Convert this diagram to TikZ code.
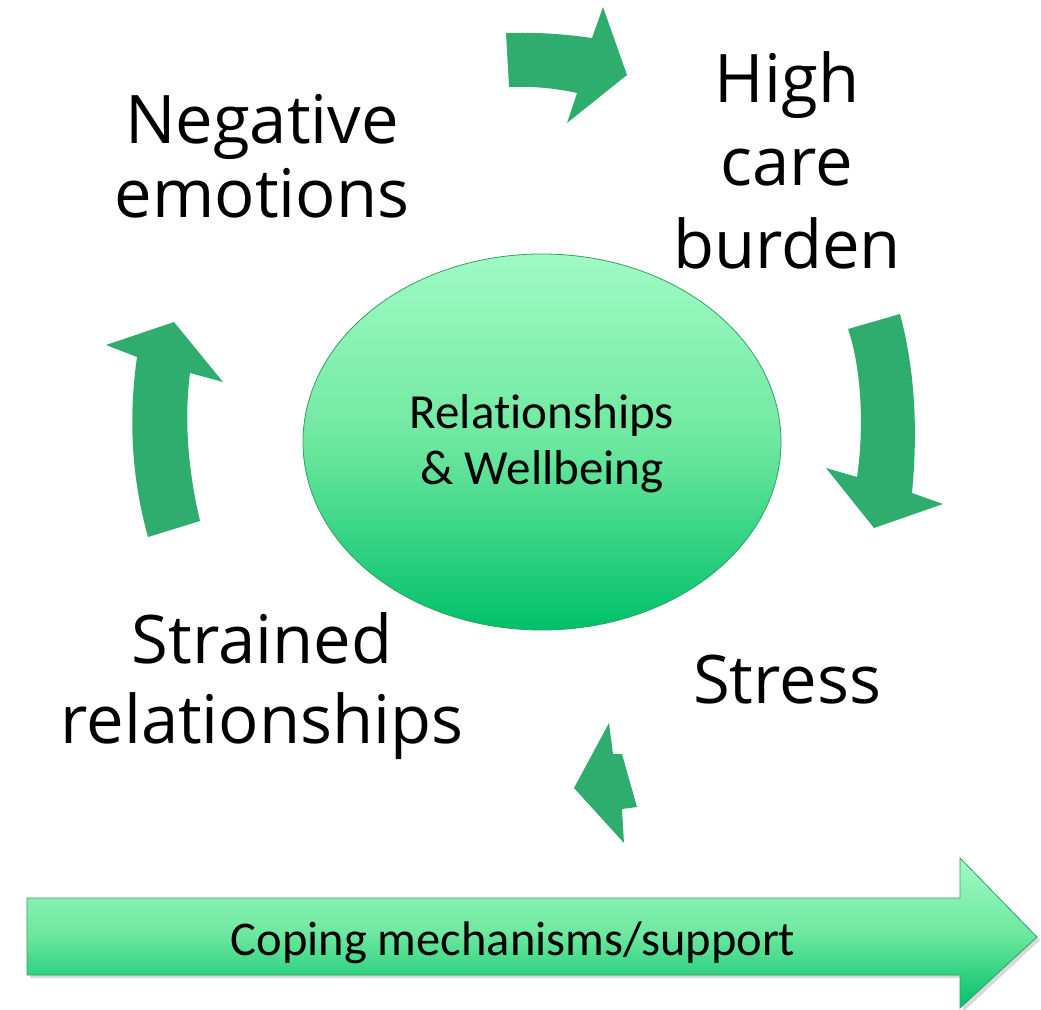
\documentclass[tikz,border=0pt]{standalone}
\usepackage{fontspec}
\setmainfont{Open Sans}
\newfontfamily\capfont[Ligatures=NoCommon]{Carlito}
\usetikzlibrary{shapes.geometric}
\definecolor{cyclegreen}{RGB}{46,173,110}
\definecolor{lightmint}{RGB}{160,250,196}
\definecolor{midmint}{RGB}{110,232,160}
\definecolor{deepmint}{RGB}{0,192,106}
\definecolor{rimgreen}{RGB}{52,160,96}
\tikzset{
  cyclearrow/.style={fill=cyclegreen, draw=none},
  bigword/.style={font=\fontsize{67}{67}\selectfont, anchor=base, inner sep=0pt},
  minttext/.style={font=\capfont\fontsize{49}{49}\selectfont, anchor=base, inner sep=0pt},
}
\begin{document}
\begin{tikzpicture}[x=1pt, y=-1pt]
\useasboundingbox (0,0) rectangle (1041,1009);

% centre ellipse
\node[ellipse, minimum width=478pt, minimum height=376pt, draw=rimgreen, line width=0.8pt,
      top color=lightmint, bottom color=deepmint, middle color=midmint, inner sep=0pt]
      (core) at (542,442) {};
\node[minttext] (core1) at (542,428) {Relationships};
\node[minttext] (core2) at (542,484) {\& Wellbeing};

% cycle arrows
\fill[cyclearrow] (506,33) -- (509,87) .. controls (530,86) and (555,88) .. (577,93)
  -- (567,123) -- (627,75) -- (603,7) -- (592,38)
  .. controls (565,34) and (535,32) .. (506,33) -- cycle;
\fill[cyclearrow] (848,329) -- (900,314) .. controls (915,370) and (918,430) .. (912,493)
  -- (943,504) -- (874,528) -- (826,468) -- (857,477)
  .. controls (864,430) and (862,370) .. (848,329) -- cycle;
\fill[cyclearrow] (609,723) -- (613,754) -- (622,754) -- (637,807) -- (622,809)
  -- (624,843) -- (574,788) -- cycle;
\fill[cyclearrow] (148,537) -- (200,521) .. controls (188,470) and (184,420) .. (190,373)
  -- (223,382) -- (174,322) -- (106,345) -- (137,357)
  .. controls (128,420) and (132,480) .. (148,537) -- cycle;

% cycle labels
\node[bigword] (neg1) at (262,143) {Negative};
\node[bigword] (neg2) at (262,217) {emotions};
\node[bigword] (high1) at (787,102) {High};
\node[bigword] (high2) at (787,185) {care};
\node[bigword] (high3) at (787,268) {burden};
\node[bigword] (stress) at (787,703) {Stress};
\node[bigword] (strain1) at (262,663) {Strained};
\node[bigword] (strain2) at (262,743) {relationships};

% coping arrow with soft shadow
\fill[black, opacity=0.15] (30,901) -- (963,901) -- (963,861) -- (1040,940)
  -- (963,1012) -- (963,978) -- (30,978) -- cycle;
\path[draw=rimgreen, line width=0.8pt, top color=lightmint, bottom color=deepmint, middle color=midmint]
  (27,898) -- (960,898) -- (960,858) -- (1037,937) -- (960,1008) -- (960,975) -- (27,975) -- cycle;
\node[minttext, font=\capfont\fontsize{48.5}{48.5}\selectfont] (coping) at (513,955) {Coping mechanisms/support};
\end{tikzpicture}
\end{document}
